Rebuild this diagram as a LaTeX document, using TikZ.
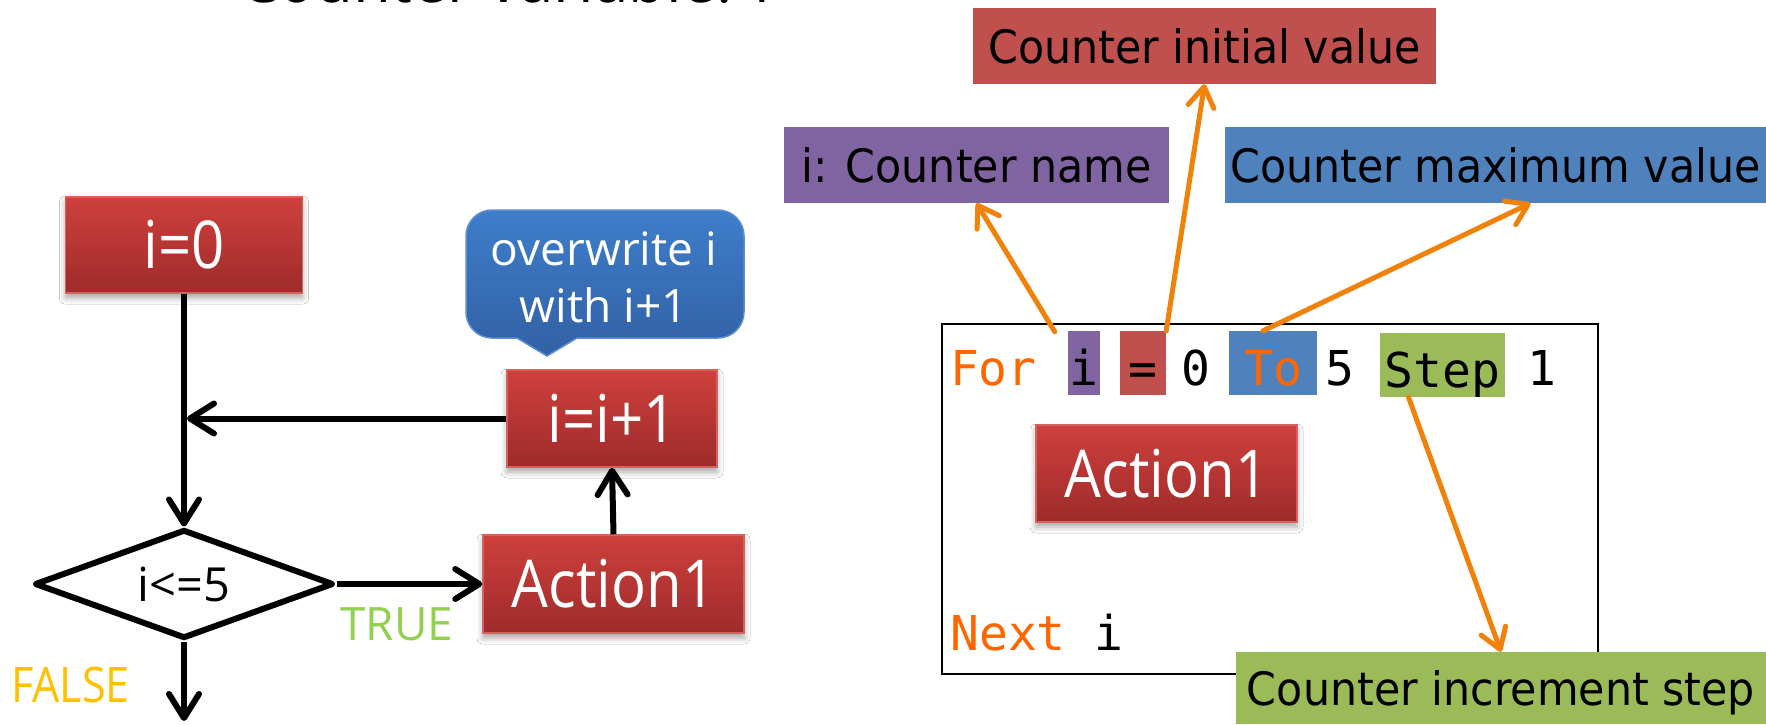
\documentclass[tikz,border=0pt]{standalone}
\usepackage{fontspec}
\usetikzlibrary{arrows.meta,shapes.geometric,shadows.blur,calc}

% fonts
\newfontfamily\boxfont[FakeStretch=0.88]{Open Sans}
\newfontfamily\plainfont{Open Sans}
\newfontfamily\labelfont[FakeStretch=0.93]{DejaVu Sans}
\newfontfamily\codefont{DejaVu Sans Mono}

% colours
\definecolor{redtop}{RGB}{206,64,60}
\definecolor{redbot}{RGB}{158,43,43}
\definecolor{redrim}{RGB}{214,98,94}
\definecolor{bluetop}{RGB}{62,126,202}
\definecolor{bluebot}{RGB}{50,96,164}
\definecolor{bluerim}{RGB}{92,142,212}
\definecolor{lblred}{RGB}{192,80,77}
\definecolor{lblpurple}{RGB}{128,100,162}
\definecolor{lblblue}{RGB}{79,129,189}
\definecolor{lblgreen}{RGB}{155,187,89}
\definecolor{pointer}{RGB}{240,130,10}
\definecolor{keyword}{RGB}{255,102,0}
\definecolor{truegreen}{RGB}{146,208,80}
\definecolor{falseyellow}{RGB}{255,192,0}

\tikzset{
  redbox/.style={rectangle, draw=redrim, line width=1.5pt,
    top color=redtop, bottom color=redbot, text=white, inner sep=0pt,
    font=\boxfont\fontsize{66}{70}\selectfont,
    blur shadow={shadow xshift=0pt, shadow yshift=-5pt,
      shadow blur radius=6pt, shadow opacity=35}},
  flow/.style={draw=black, line width=6pt,
    -{Straight Barb[length=24pt,width=30pt,round]}},
  ptr/.style={draw=pointer, line width=5pt, line cap=round,
    -{Straight Barb[length=20pt,width=26pt,round]}},
  lbl/.style={rectangle, inner sep=0pt, text=black,
    font=\labelfont\fontsize{46}{50}\selectfont,
    text height=34pt, text depth=0pt},
  codetok/.style={rectangle, inner sep=0pt, text=black,
    font=\codefont\fontsize{48}{52}\selectfont,
    text height=54pt, text depth=10pt, minimum height=64pt},
}

\begin{document}
\begin{tikzpicture}[x=1pt,y=-1pt]
\useasboundingbox (0,0) rectangle (1766,724);
\clip (0,0) rectangle (1766,724);
\fill[white] (0,0) rectangle (1766,724);

% heading running off the top edge
\node[anchor=base west, inner sep=0pt, text=black,
  font=\boxfont\fontsize{70}{74}\selectfont] (heading) at (239,2) {Counter variable: i};

% ---------------- flowchart ----------------
\node[redbox, minimum width=237pt, minimum height=96pt] (init) at (184,245) {i=0};
\node[diamond, draw=black, line width=6pt, line join=round, aspect=2.74,
  minimum width=299pt, minimum height=109pt, inner sep=0pt, fill=white,
  font=\plainfont\fontsize{47}{50}\selectfont] (test) at (184,584) {i<=5};
\node[redbox, minimum width=261pt, minimum height=98pt] (act) at (613.5,584) {Action1};
\node[redbox, minimum width=210pt, minimum height=97pt] (inc) at (612,418.5) {i=i+1};

% speech bubble above the increment
\path[top color=bluetop, bottom color=bluebot, draw=bluerim, line width=1.5pt]
  (492,210) -- (718,210) .. controls (732.4,210) and (744,221.6) .. (744,236)
  -- (744,312) .. controls (744,326.4) and (732.4,338) .. (718,338)
  -- (577,338) -- (547,356) -- (517,338)
  -- (492,338) .. controls (477.6,338) and (466,326.4) .. (466,312)
  -- (466,236) .. controls (466,221.6) and (477.6,210) .. (492,210) -- cycle;
\node[text=white, align=center, inner sep=0pt,
  font=\plainfont\fontsize{46}{57}\selectfont] (note) at (604,277) {overwrite i\\with i+1};

\coordinate (merge) at (187,418.5);
\coordinate (exit) at (184,721);
\draw[flow] (init.south) -- (test.north);
\draw[flow] (inc.west) -- (merge);
\draw[flow] (test.east) -- (act.west);
\draw[flow] (act.north) -- (inc.south);
\draw[flow] (test.south) -- (exit);

\node[anchor=base, inner sep=0pt, text=truegreen,
  font=\plainfont\fontsize{46}{50}\selectfont] (truelbl) at (397,640) {TRUE};
\node[anchor=base, inner sep=0pt, text=falseyellow,
  font=\boxfont\fontsize{49}{53}\selectfont] (falselbl) at (70.5,702) {FALSE};

% ---------------- For ... Next listing ----------------
\node[draw=black, line width=2.5pt, minimum width=656pt, minimum height=350pt,
  inner sep=0pt] (codebox) at (1270,499) {};

\node[codetok, text=keyword] (kfor) at (993.4,363) {For};
\node[codetok, fill=lblpurple, minimum width=32pt] (ci) at (1084,363) {i};
\node[codetok, fill=lblred, minimum width=46pt] (ceq) at (1143,363) {=};
\node[codetok] (czero) at (1196,363) {0};
\node[codetok, fill=lblblue, text=keyword, minimum width=88pt] (cto) at (1273,363) {To};
\node[codetok] (cfive) at (1340,363) {5};
\node[codetok, fill=lblgreen, minimum width=125pt] (cstep) at (1442.5,365) {Step};
\node[codetok] (cone) at (1542,363) {1};
\node[codetok, text=keyword] (knext) at (1008,628) {Next};
\node[codetok] (nexti) at (1109,628) {i};

\node[redbox, minimum width=261pt, minimum height=97pt] (body) at (1166.5,473.5) {Action1};

% ---------------- explanation labels ----------------
\node[lbl, fill=lblred, minimum width=463pt, minimum height=76pt] (linit) at (1204.5,46) {Counter initial value};
\node[lbl, fill=lblpurple, minimum width=385pt, minimum height=76pt] (lname) at (976.5,165) {i: Counter name};
\node[lbl, fill=lblblue, minimum width=541pt, minimum height=76pt] (lmax) at (1495.5,165) {Counter maximum value};
\node[lbl, fill=lblgreen, minimum width=530pt, minimum height=72pt] (lstep) at (1501,688) {Counter increment step};

\draw[ptr] ($(ci.north west)+(-13,1)$) -- (lname.south);
\draw[ptr] (ceq.north east) -- (linit.south);
\draw[ptr] ($(cto.north)+(-10,0)$) -- ($(lmax.south)+(35,0)$);
\draw[ptr] ($(cstep.south)+(-34,0)$) -- (lstep.north);
\end{tikzpicture}
\end{document}
